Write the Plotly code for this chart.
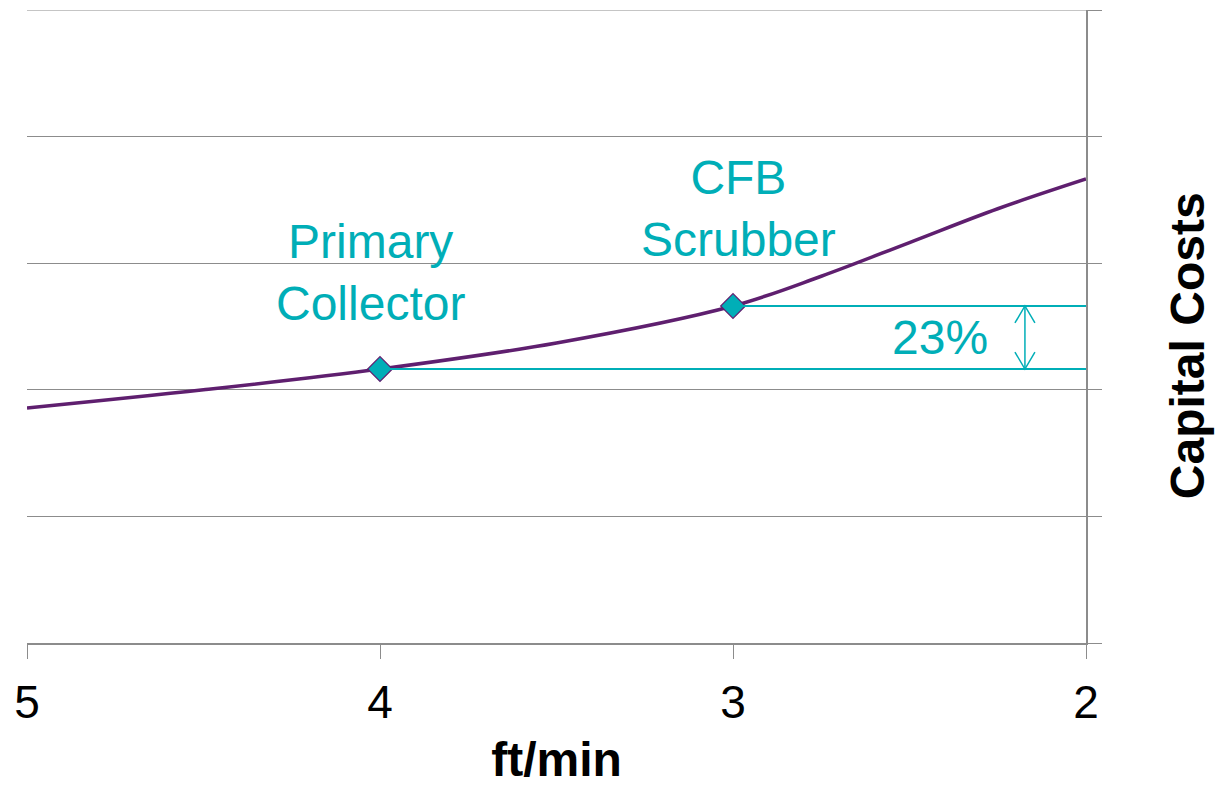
import plotly.graph_objects as go

# Gas velocity (ft/min) and relative capital cost along the curve
velocity = [5.0, 4.5, 4.0, 3.5, 3.0, 2.75, 2.5, 2.25, 2.0]
capital_cost = [1.856, 2.0, 2.164, 2.37, 2.662, 2.897, 3.163, 3.43, 3.665]

# Highlighted design points
point_x = [4.0, 3.0]
point_y = [2.164, 2.662]
point_labels = ["Primary<br>Collector", "CFB<br>Scrubber"]

x_ticks = [5, 4, 3, 2]
y_grid = [0, 1, 2, 3, 4, 5]
pct_label = "23%"
arrow_x = 2.173
pct_x = 2.414

PURPLE = "#5F1F6F"
TEAL = "#00AEB7"
GRID = "#8C8C8C"
FONT = "Liberation Sans, Arial, sans-serif"

fig = go.Figure()

# top gridline at the range edge
fig.add_shape(type="line", xref="x", yref="y", x0=velocity[0], x1=velocity[-1],
              y0=y_grid[-1], y1=y_grid[-1], line=dict(color=GRID, width=1), layer="below")

# reference lines from each design point to the right axis
for px_, py_ in zip(point_x, point_y):
    fig.add_shape(type="line", xref="x", yref="y", x0=px_, x1=velocity[-1], y0=py_, y1=py_,
                  line=dict(color=TEAL, width=2))

fig.add_trace(go.Scatter(
    x=velocity, y=capital_cost, mode="lines",
    line=dict(color=PURPLE, width=3.5, shape="spline", smoothing=1.0),
    hoverinfo="skip", showlegend=False))

fig.add_trace(go.Scatter(
    x=point_x, y=point_y, mode="markers",
    marker=dict(symbol="diamond", size=19, color=TEAL,
                line=dict(color=PURPLE, width=1.2)),
    hoverinfo="skip", showlegend=False))

# double-headed arrow spanning the cost difference
y_lo, y_hi = min(point_y), max(point_y)
fig.add_shape(type="line", xref="x", yref="y", x0=arrow_x, x1=arrow_x, y0=y_lo, y1=y_hi,
              line=dict(color=TEAL, width=1.5))
for yv, d in ((y_hi, -1), (y_lo, 1)):
    fig.add_shape(type="path", xref="x", yref="y",
                  xsizemode="pixel", ysizemode="pixel",
                  xanchor=arrow_x, yanchor=yv,
                  path=f"M -10,{d*17} L 0,0 L 10,{d*17}",
                  line=dict(color=TEAL, width=1.5))

for px_, py_, lab, dx in zip(point_x, point_y, point_labels, [-10, 5]):
    fig.add_annotation(x=px_, y=py_, text=lab, showarrow=False,
                       xshift=dx, yshift=97, align="center",
                       font=dict(family=FONT, size=48, color=TEAL))

fig.add_annotation(x=pct_x, y=(y_lo + y_hi) / 2, text=pct_label, showarrow=False,
                   font=dict(family=FONT, size=48, color=TEAL))

# vertical axis caption on the right
fig.add_annotation(xref="paper", yref="paper", x=1.0954, y=0.469,
                   text="<b>Capital Costs</b>", textangle=-90, showarrow=False,
                   xanchor="center", yanchor="middle",
                   font=dict(family=FONT, size=48, color="black"))

fig.update_layout(
    width=1215, height=786,
    margin=dict(l=27, r=129, t=10, b=143),
    paper_bgcolor="white", plot_bgcolor="white",
    font=dict(family=FONT, color="black"),
)

fig.update_xaxes(
    range=[5, 2], tickvals=x_ticks, ticktext=[str(t) for t in x_ticks],
    showgrid=False, zeroline=False, automargin=False,
    showline=True, linecolor=GRID, linewidth=2,
    ticks="outside", ticklen=14, tickcolor=GRID, tickwidth=1,
    ticklabelstandoff=4,
    tickfont=dict(family=FONT, size=46, color="black"),
    title=dict(text="ft/min", font=dict(family=FONT, size=48, color="black", weight="bold"),
               standoff=31),
)

fig.update_yaxes(
    range=[0, 5], tickvals=y_grid, showticklabels=False, side="right",
    showgrid=True, gridcolor=GRID, gridwidth=1, zeroline=False, automargin=False,
    showline=True, linecolor=GRID, linewidth=2,
    ticks="outside", ticklen=14, tickcolor=GRID, tickwidth=1,
)

fig.write_html("out.html")
